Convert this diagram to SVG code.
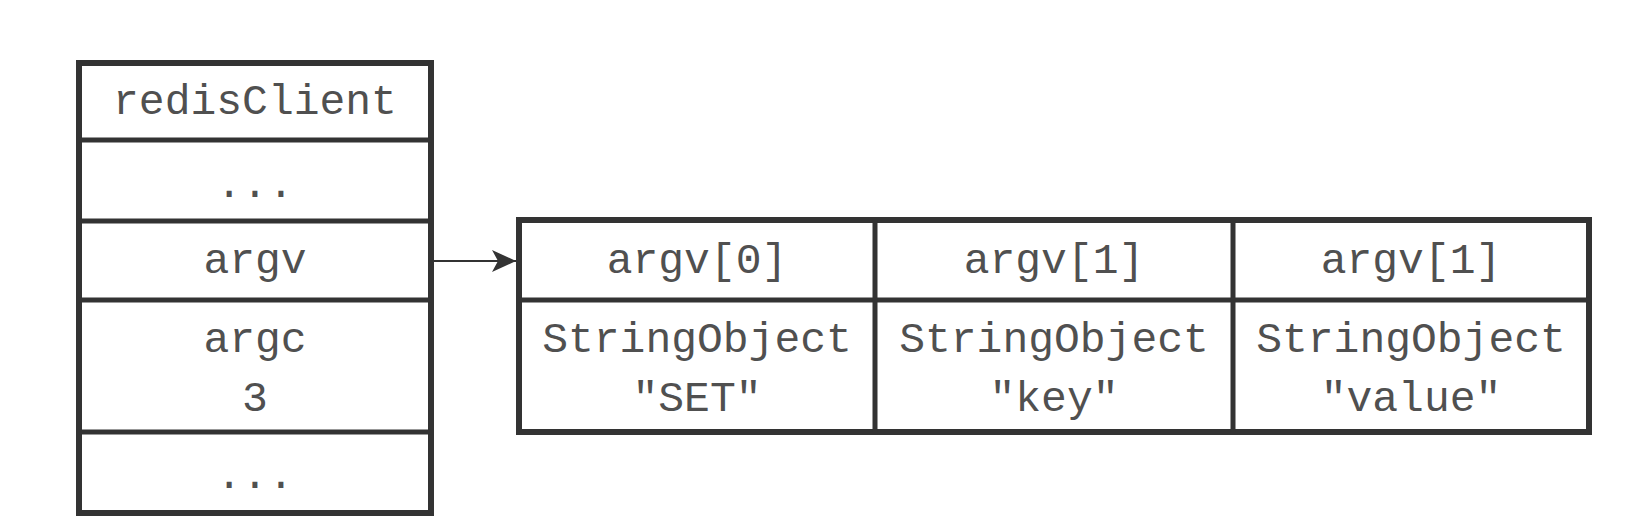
<svg xmlns="http://www.w3.org/2000/svg" width="1642" height="532" viewBox="0 0 1642 532">
<defs>
<style>
.box{fill:#fff;stroke:#333;stroke-width:6}
.div{stroke:#333;stroke-width:5;fill:none}
.t{font-family:"Liberation Mono","Courier New",monospace;font-size:43px;fill:#505050;text-anchor:middle}
.conn{stroke:#333;stroke-width:2;fill:none}
</style>
<marker id="arr" markerUnits="userSpaceOnUse" markerWidth="26" markerHeight="24" refX="24" refY="12" orient="auto">
<path d="M0,1 L24,12 L0,23 L6,12 Z" fill="#333"/>
</marker>
</defs>
<rect width="1642" height="532" fill="#fff"/>
<g id="redisClient">
<rect class="box" x="79" y="63" width="352" height="450"/>
<line class="div" x1="79" y1="140" x2="431" y2="140"/>
<line class="div" x1="79" y1="221" x2="431" y2="221"/>
<line class="div" x1="79" y1="300" x2="431" y2="300"/>
<line class="div" x1="79" y1="432" x2="431" y2="432"/>
<text class="t" x="255" y="114">redisClient</text>
<text class="t" x="255" y="197">...</text>
<text class="t" x="255" y="273">argv</text>
<text class="t" x="255" y="352">argc</text>
<text class="t" x="255" y="411">3</text>
<text class="t" x="255" y="488">...</text>
</g>
<g id="argvArray">
<rect class="box" x="519" y="220" width="1070" height="212"/>
<line class="div" x1="519" y1="300" x2="1589" y2="300"/>
<line class="div" x1="875" y1="220" x2="875" y2="432"/>
<line class="div" x1="1233" y1="220" x2="1233" y2="432"/>
</g>
<g id="argv0">
<text class="t" x="697" y="273">argv[0]</text>
<text class="t" x="697" y="352">StringObject</text>
<text class="t" x="697" y="411">"SET"</text>
</g>
<g id="argv1">
<text class="t" x="1054" y="273">argv[1]</text>
<text class="t" x="1054" y="352">StringObject</text>
<text class="t" x="1054" y="411">"key"</text>
</g>
<g id="argv2">
<text class="t" x="1411" y="273">argv[1]</text>
<text class="t" x="1411" y="352">StringObject</text>
<text class="t" x="1411" y="411">"value"</text>
</g>
<g id="connectors">
<line class="conn" x1="434" y1="261" x2="516" y2="261" marker-end="url(#arr)"/>
</g>
</svg>
